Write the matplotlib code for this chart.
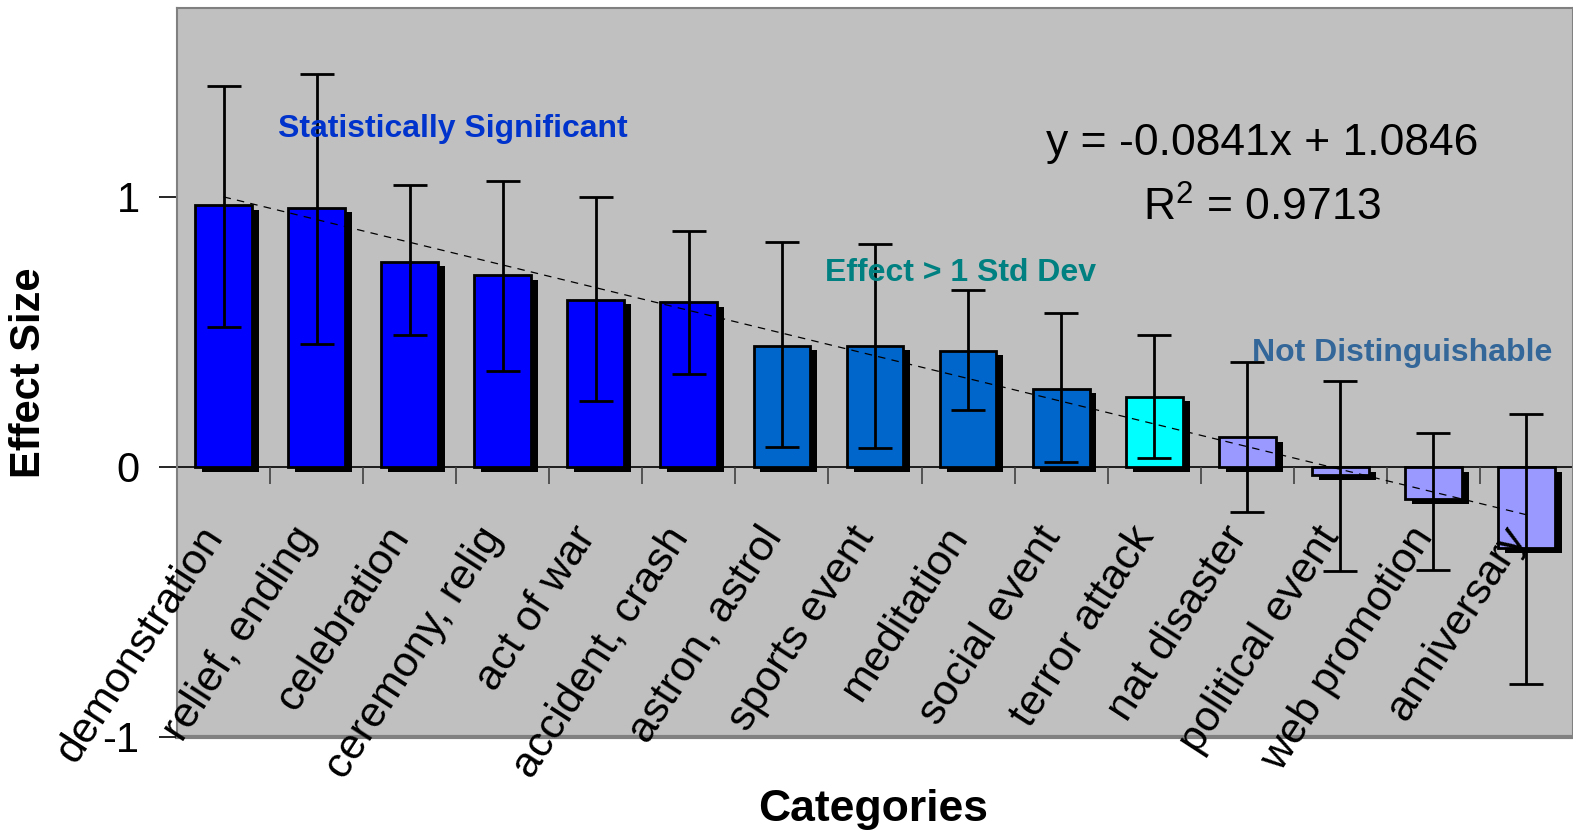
import numpy as np
import matplotlib
matplotlib.use("Agg")
import matplotlib.pyplot as plt
import matplotlib.patheffects as pe
from matplotlib.transforms import ScaledTranslation

plt.rcParams.update(
    {
        "font.family": "Liberation Sans",
        "mathtext.fontset": "custom",
        "mathtext.rm": "Liberation Sans",
        "mathtext.it": "Liberation Sans:italic",
    }
)

# %% data
categories = [
    "demonstration", "relief, ending", "celebration", "ceremony, relig",
    "act of war", "accident, crash", "astron, astrol", "sports event",
    "meditation", "social event", "terror attack", "nat disaster",
    "political event", "web promotion", "anniversary",
]
effect = [0.97, 0.96, 0.76, 0.71, 0.62, 0.61, 0.45, 0.45, 0.43, 0.29,
          0.26, 0.11, -0.03, -0.12, -0.30]
err_hi = [1.41, 1.455, 1.045, 1.06, 1.00, 0.875, 0.835, 0.825, 0.655, 0.57,
          0.49, 0.39, 0.32, 0.125, 0.195]
err_lo = [0.52, 0.455, 0.49, 0.355, 0.245, 0.345, 0.075, 0.07, 0.21, 0.02,
          0.035, -0.165, -0.385, -0.38, -0.805]
bar_colors = ["#0000FF"] * 6 + ["#0066CC"] * 4 + ["#00FFFF"] + ["#9999FF"] * 4
slope, intercept, r2 = -0.0841, 1.0846, 0.9713

# %%
x = np.arange(1, len(categories) + 1)
effect = np.array(effect)
yerr = [effect - np.array(err_lo), np.array(err_hi) - effect]

fig = plt.figure(figsize=(15.73, 8.35), dpi=100)
ax = fig.add_axes([177 / 1573, 1 - 737 / 835, 1 - 177 / 1573, 729 / 835])
ax.set_facecolor("#C0C0C0")

bars = ax.bar(x, effect, width=0.61, color=bar_colors, edgecolor="black",
              linewidth=2, zorder=2)
for b in bars:
    b.set_path_effects([
        pe.SimplePatchShadow(offset=(5, -3.3), shadow_rgbFace="black", alpha=1),
        pe.Normal(),
    ])

ax.errorbar(x, effect, yerr=yerr, fmt="none", ecolor="black", elinewidth=2,
            capsize=12, capthick=2, zorder=3)

# linear trend line
ax.plot(x, slope * x + intercept, color="black", lw=0.9, ls=(0, (6, 5)), zorder=4)

ax.set_xlim(0.5, 15.5)
ax.set_ylim(-1, 1.7)

# axes frame and zero line
ax.spines["bottom"].set_position(("data", 0))
ax.spines["bottom"].set_color("black")
ax.spines["bottom"].set_linewidth(1.2)
ax.spines["bottom"].set_zorder(1)
for s in ["top", "right", "left"]:
    ax.spines[s].set_color("#808080")
    ax.spines[s].set_linewidth(1.5)
ax.axhline(-1, color="#808080", lw=3, clip_on=False, zorder=1)

ax.set_yticks([-1, 0, 1])
ax.set_yticklabels(["-1", "0", "1"])
ax.tick_params(axis="y", direction="out", length=13, width=1.2, labelsize=30,
               pad=14, color="black")

ax.set_xticks(x)
ax.set_xticks(np.arange(1.5, 15.5, 1), minor=True)
ax.set_xticklabels(categories, rotation=57, ha="right", va="top", fontsize=31)
ax.tick_params(axis="x", which="major", length=0, pad=38)
ax.tick_params(axis="x", which="minor", direction="out", length=12, width=1.2,
               color="#404040")
shift = ScaledTranslation(8 / 100, 0, fig.dpi_scale_trans)
for lab in ax.get_xticklabels():
    lab.set_transform(lab.get_transform() + shift)
# category labels sit on top of the bars (see "anniversary")
ax.xaxis.set_zorder(2.5)

ax.set_ylabel("Effect Size", fontsize=30, fontweight="bold")
ax.yaxis.set_label_coords(-0.092, 0.5)
fig.text(873 / 1573, 1 - 810 / 835, "Categories", fontsize=32, fontweight="bold",
         ha="center", va="center")

# annotations
ax.text(1.585, 1.252, "Statistically Significant", color="#0033CC", fontsize=23,
        fontweight="bold", ha="left", va="center")
ax.text(7.46, 0.72, "Effect > 1 Std Dev", color="#008080", fontsize=23,
        fontweight="bold", ha="left", va="center")
ax.text(12.05, 0.423, "Not Distinguishable", color="#336699", fontsize=23,
        fontweight="bold", ha="left", va="center", zorder=5)
ax.text(12.16, 1.20, f"y = {slope}x + {intercept}", fontsize=32,
        ha="center", va="center")
ax.text(12.16, 0.96, f"R$^2$ = {r2}", fontsize=32, ha="center", va="center")

plt.savefig("out.png", dpi=100)
